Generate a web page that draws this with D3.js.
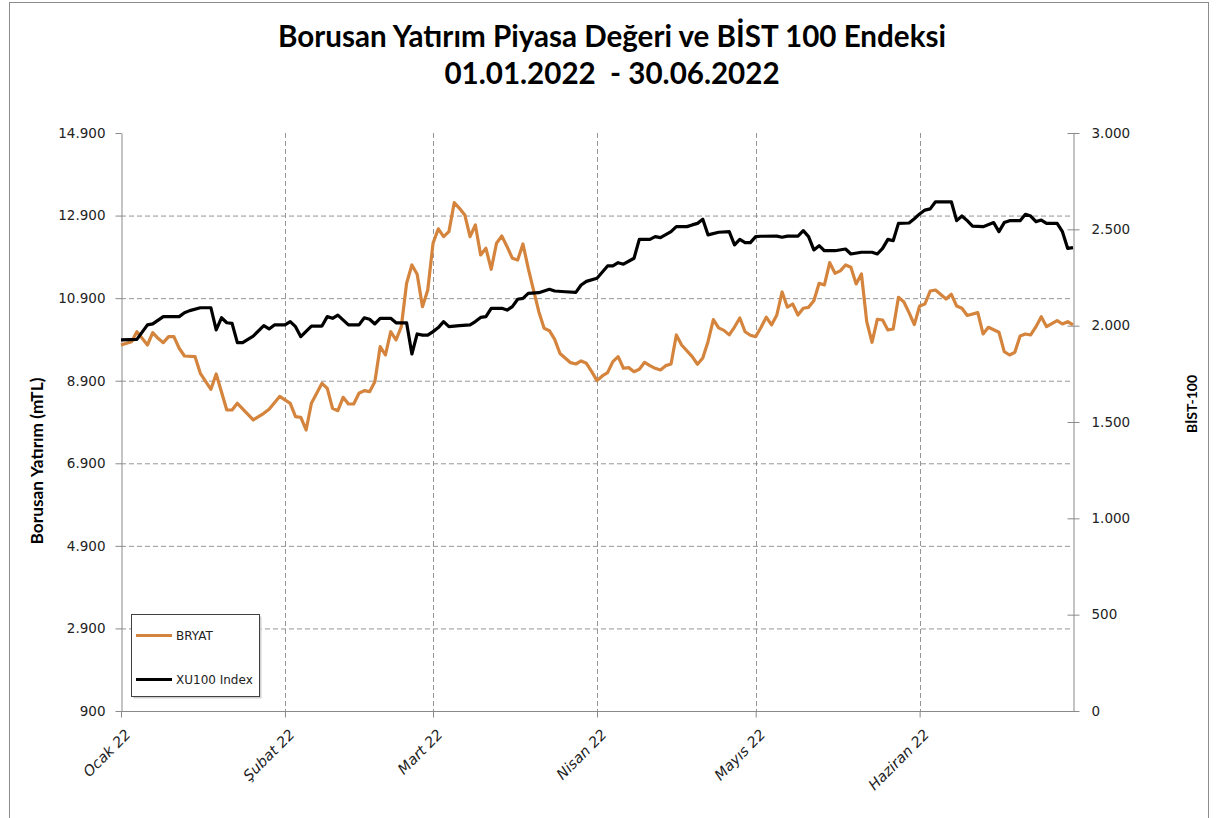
<!DOCTYPE html>
<html><head><meta charset="utf-8">
<script src="https://cdn.jsdelivr.net/npm/d3@7"></script>
<style>body{margin:0;background:#fff}svg{display:block}</style>
</head><body>
<svg id="c" width="1219" height="818"></svg>
<script>
const titleLines = ["Borusan Yatırım Piyasa Değeri ve BİST 100 Endeksi", "01.01.2022  - 30.06.2022"];
const leftAxisTitle = "Borusan Yatırım (mTL)";
const rightAxisTitle = "BİST-100";
const leftTicks = [900, 2900, 4900, 6900, 8900, 10900, 12900, 14900];
const rightTicks = [0, 500, 1000, 1500, 2000, 2500, 3000];
const monthTicks = ["2022-01-01", "2022-02-01", "2022-03-01", "2022-04-01", "2022-05-01", "2022-06-01"];
const monthLabels = ["Ocak 22", "Şubat 22", "Mart 22", "Nisan 22", "Mayıs 22", "Haziran 22"];
const seriesNames = ["BRYAT", "XU100 Index"];

const bryatDates = ["01-01","01-03","01-04","01-05","01-06","01-07","01-08","01-09","01-10","01-11","01-12","01-13","01-15","01-16","01-18","01-19","01-21","01-22","01-23","01-26","01-28","01-29","01-31",
"02-02","02-03","02-04","02-05","02-06","02-08","02-09","02-10","02-11","02-12","02-13","02-14","02-15","02-16","02-17","02-18","02-19","02-20","02-21","02-22","02-23","02-24","02-25","02-26","02-27","02-28",
"03-01","03-02","03-03","03-04","03-05","03-06","03-07","03-08","03-09","03-10","03-11","03-12","03-13","03-14","03-15","03-16","03-17","03-18","03-19","03-20","03-21","03-22","03-23","03-24","03-25","03-27","03-28","03-29","03-30","03-31",
"04-01","04-02","04-03","04-04","04-05","04-06","04-07","04-08","04-09","04-10","04-11","04-12","04-13","04-14","04-15","04-16","04-17","04-19","04-20","04-21","04-22","04-23","04-24","04-25","04-26","04-27","04-28","04-29","04-30",
"05-01","05-02","05-03","05-04","05-05","05-06","05-07","05-08","05-09","05-10","05-11","05-12","05-13","05-14","05-15","05-16","05-17","05-18","05-19","05-20","05-21","05-22","05-23","05-24","05-25","05-26","05-27","05-28","05-29","05-30","05-31",
"06-01","06-02","06-03","06-04","06-06","06-07","06-08","06-09","06-10","06-12","06-13","06-14","06-16","06-17","06-18","06-19","06-20","06-21","06-22","06-23","06-24","06-25","06-27","06-28","06-29","06-30"];
const bryatValues = [9765,9846,10087,9927,9765,10063,9927,9822,9967,9967,9686,9499,9482,9080,8692,9063,8191,8191,8353,7949,8111,8208,8520,
8350,8029,8014,7707,8353,8837,8716,8232,8174,8498,8336,8336,8595,8659,8635,8877,9724,9523,10087,9886,10208,11260,11703,11478,10693,11097,
12230,12580,12389,12510,13212,13075,12914,12389,12672,11945,12108,11599,12229,12405,12146,11865,11823,12212,11623,11097,10572,10170,10112,9900,9560,9337,9305,9378,9321,9119,
8901,9015,9095,9362,9482,9201,9217,9119,9177,9346,9265,9200,9160,9265,9305,10008,9765,9482,9298,9450,9850,10380,10180,10120,10010,10200,10420,10087,10000,
9967,10190,10440,10250,10492,11050,10680,10758,10492,10654,10677,10839,11260,11219,11759,11502,11560,11703,11647,11243,11485,10330,9831,10388,10371,10129,10153,10921,10814,10550,10260,
10710,10758,11073,11097,10879,10993,10710,10654,10480,10549,10032,10194,10073,9603,9523,9588,9983,10032,10008,10209,10451,10209,10354,10274,10330,10250];

const xu100Dates = ["01-01","01-04","01-06","01-07","01-09","01-12","01-13","01-14","01-16","01-18","01-19","01-20","01-21","01-22","01-23","01-24","01-26","01-28","01-29","01-30",
"02-01","02-02","02-03","02-04","02-06","02-08","02-09","02-10","02-11","02-13","02-15","02-16","02-17","02-18","02-19","02-21","02-22","02-24","02-25","02-26","02-27","02-28",
"03-01","03-02","03-03","03-04","03-06","03-08","03-09","03-10","03-11","03-12","03-14","03-15","03-16","03-17","03-18","03-19","03-21","03-23","03-24","03-26","03-28","03-29","03-30",
"04-01","04-03","04-04","04-05","04-06","04-08","04-09","04-11","04-12","04-13","04-15","04-16","04-18","04-19","04-20","04-21","04-22","04-24","04-26","04-27","04-28","04-29","04-30",
"05-01","05-02","05-05","05-06","05-07","05-09","05-10","05-11","05-12","05-13","05-14","05-16","05-18","05-19","05-21","05-23","05-24","05-25","05-26","05-27","05-28","05-30","05-31",
"06-01","06-02","06-03","06-04","06-07","06-08","06-09","06-10","06-11","06-13","06-15","06-16","06-17","06-18","06-20","06-21","06-22","06-23","06-24","06-25","06-27","06-28","06-29","06-30"];
const xu100Values = [1926,1929,2004,2009,2047,2047,2067,2078,2093,2093,1978,2041,2015,2012,1912,1912,1946,2000,1983,2004,
2004,2021,1995,1943,1998,1998,2047,2038,2055,2004,2004,2041,2033,2009,2038,2038,2015,2015,1853,1957,1951,1951,
1969,1990,2021,1995,2000,2004,2021,2043,2047,2090,2090,2081,2099,2137,2142,2168,2171,2189,2180,2176,2173,2211,2230,
2246,2310,2310,2327,2319,2350,2448,2448,2462,2457,2488,2514,2514,2523,2531,2552,2471,2485,2488,2419,2448,2431,2431,
2462,2464,2465,2459,2465,2465,2493,2462,2393,2415,2389,2389,2398,2372,2381,2381,2372,2401,2448,2441,2531,2533,2555,
2580,2600,2606,2643,2643,2545,2569,2545,2517,2514,2535,2488,2535,2545,2545,2578,2569,2540,2548,2531,2531,2488,2401,2405];

const ORANGE = "#D4843C", BLACK = "#000000", GRID = "#959595", AXIS = "#8a8a8a", TXT = "#222";

const svg = d3.select("#c");
const M = {l: 121, r: 1073, t: 133, b: 711};
const parse = d3.utcParse("%Y-%m-%d");
const toDate = s => parse("2022-" + s);
const x = d3.scaleUtc().domain([parse("2022-01-01"), parse("2022-06-30")]).range([M.l, M.r]);
const yL = d3.scaleLinear().domain([900, 14900]).range([M.b, M.t]);
const yR = d3.scaleLinear().domain([0, 3000]).range([M.b, M.t]);
const loc = d3.formatLocale({decimal: ",", thousands: ".", grouping: [3], currency: ["", ""]});
const fmt = loc.format(",d");
const months = monthTicks.map(parse);

svg.append("rect").attr("width", 1219).attr("height", 818).attr("fill", "#fff");
svg.append("rect").attr("x", 9.5).attr("y", 2.5).attr("width", 1199).attr("height", 830)
  .attr("fill", "none").attr("stroke", "#8c8c8c");

function fit(sel, target) {
  const len = sel.node().getComputedTextLength();
  const fs = parseFloat(sel.attr("font-size"));
  sel.attr("font-size", (fs * target / len).toFixed(2));
}

// Title
const t1 = svg.append("text").attr("x", 612).attr("y", 47).attr("text-anchor", "middle")
  .attr("font-family", "Lato").attr("font-weight", 700).attr("font-size", 24).attr("fill", "#000")
  .text(titleLines[0]);
fit(t1, 668);
svg.append("text").attr("x", 612).attr("y", 84).attr("text-anchor", "middle")
  .attr("font-family", "Lato").attr("font-weight", 700).attr("font-size", t1.attr("font-size")).attr("fill", "#000")
  .style("white-space", "pre").text(titleLines[1]);

// Grid
svg.append("g").selectAll("line").data(leftTicks.filter(v => v > 900 && v < 14900)).join("line")
  .attr("x1", M.l).attr("x2", M.r).attr("y1", d => yL(d) + 0.5).attr("y2", d => yL(d) + 0.5)
  .attr("stroke", GRID).attr("stroke-dasharray", "5,3");
svg.append("g").selectAll("line").data(months.slice(1)).join("line")
  .attr("x1", d => Math.round(x(d)) + 0.5).attr("x2", d => Math.round(x(d)) + 0.5).attr("y1", M.t).attr("y2", M.b)
  .attr("stroke", GRID).attr("stroke-dasharray", "5,3");

// Axes
function styleAxis(g) {
  g.select(".domain").attr("stroke", AXIS);
  g.selectAll(".tick line").attr("stroke", AXIS);
  g.selectAll(".tick text").attr("fill", TXT).attr("font-family", "DejaVu Sans").attr("font-size", 13.5);
}
svg.append("g").attr("transform", `translate(${M.l + 0.5},0)`)
  .call(d3.axisLeft(yL).tickValues(leftTicks).tickSize(6).tickSizeOuter(0).tickPadding(10).tickFormat(fmt))
  .call(styleAxis);
const gR = svg.append("g").attr("transform", `translate(${M.r + 0.5},0)`)
  .call(d3.axisRight(yR).tickValues(rightTicks).tickSize(6).tickSizeOuter(0).tickPadding(12).tickFormat(fmt))
  .call(styleAxis);
gR.selectAll(".tick line").attr("x1", -6);

const gX = svg.append("g").attr("transform", `translate(0,${M.b + 0.5})`)
  .call(d3.axisBottom(x).tickValues(months).tickSize(6).tickSizeOuter(0).tickFormat((d, i) => monthLabels[i]))
  .call(styleAxis);
gX.select(".domain").attr("d", `M${M.l},0H${M.r}`);
gX.selectAll(".tick text").attr("font-style", "italic").attr("text-anchor", "end").attr("font-size", 14.5)
  .attr("transform", "translate(10,24) rotate(-45)").attr("dy", 0).attr("y", 0).attr("x", 0);

// Axis titles
const la = svg.append("text").attr("transform", "translate(43,461) rotate(-90)").attr("text-anchor", "middle")
  .attr("font-family", "Lato").attr("font-weight", 700).attr("font-size", 13).attr("fill", "#000").text(leftAxisTitle);
fit(la, 167);
const ra = svg.append("text").attr("transform", "translate(1197,404) rotate(-90)").attr("text-anchor", "middle")
  .attr("font-family", "Lato").attr("font-weight", 700).attr("font-size", 13).attr("fill", "#000").text(rightAxisTitle);
fit(ra, 58);

// Lines
const bryat = bryatDates.map((d, i) => ({date: toDate(d), v: bryatValues[i]}));
const xu100 = xu100Dates.map((d, i) => ({date: toDate(d), v: xu100Values[i]}));
svg.append("path").datum(bryat).attr("fill", "none").attr("stroke", ORANGE).attr("stroke-width", 3.2)
  .attr("stroke-linejoin", "round").attr("d", d3.line().x(d => x(d.date)).y(d => yL(d.v)));
svg.append("path").datum(xu100).attr("fill", "none").attr("stroke", BLACK).attr("stroke-width", 3.2)
  .attr("stroke-linejoin", "round").attr("d", d3.line().x(d => x(d.date)).y(d => yR(d.v)));

// Legend
const lg = svg.append("g");
lg.append("rect").attr("x", 133.5).attr("y", 616.5).attr("width", 128).attr("height", 82).attr("fill", "#d0d0d0");
lg.append("rect").attr("x", 131.5).attr("y", 614.5).attr("width", 128).attr("height", 82).attr("fill", "#fff").attr("stroke", "#404040");
[[ORANGE, 635.5], [BLACK, 679.5]].forEach(([c, yy], i) => {
  lg.append("line").attr("x1", 136).attr("x2", 172).attr("y1", yy).attr("y2", yy).attr("stroke", c).attr("stroke-width", 3);
  lg.append("text").attr("x", 176).attr("y", yy + 4.5).attr("font-family", "DejaVu Sans").attr("font-size", 12)
    .attr("fill", TXT).text(seriesNames[i]);
});
</script>
</body></html>
